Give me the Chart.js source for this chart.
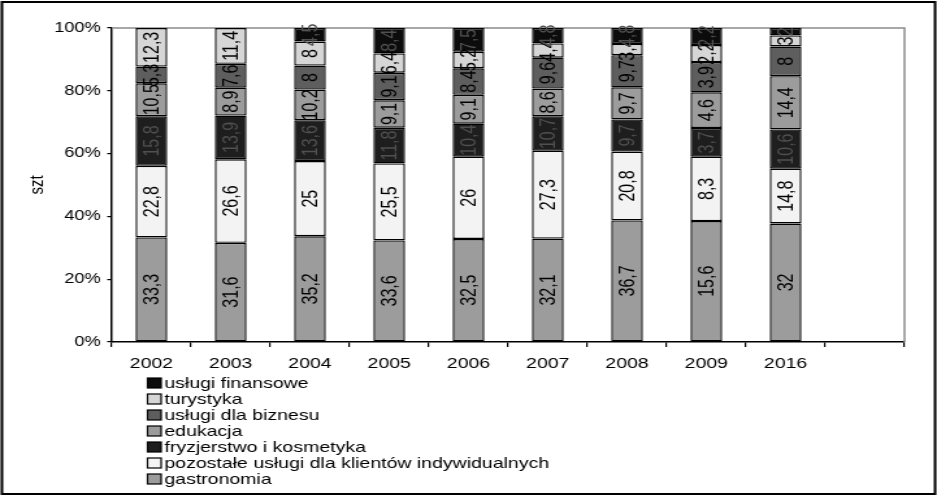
<!DOCTYPE html>
<html>
<head>
<meta charset="utf-8">
<script src="https://cdn.jsdelivr.net/npm/chart.js@4.4.1/dist/chart.umd.min.js"></script>
<style>
  html, body { margin: 0; padding: 0; background: #fff; }
</style>
</head>
<body>
<canvas id="chart" width="721" height="496" style="width:937px;height:496px;display:block"></canvas>
<script>
// lata (ostatnia kolumna pusta)
var years = ['2002', '2003', '2004', '2005', '2006', '2007', '2008', '2009', '2016', ''];

// udział poszczególnych rodzajów usług
var gastronomia = [33.3, 31.6, 35.2, 33.6, 32.5, 32.1, 36.7, 15.6, 32];
var pozostale   = [22.8, 26.6, 25, 25.5, 26, 27.3, 20.8, 8.3, 14.8];
var fryzjerstwo = [15.8, 13.9, 13.6, 11.8, 10.4, 10.7, 9.7, 3.7, 10.6];
var edukacja    = [10.5, 8.9, 10.2, 9.1, 9.1, 8.6, 9.7, 4.6, 14.4];
var biznes      = [5.3, 7.6, 8, 9.1, 8.4, 9.6, 9.7, 3.9, 8];
var turystyka   = [12.3, 11.4, 8, 6.4, 5.2, 4.4, 3.4, 2.2, 3];
var finanse     = [0, 0, 4.5, 8.4, 7.5, 4.8, 4.8, 2.2, 2];

var yTicks = [0, 20, 40, 60, 80, 100];

var FONT = '"Liberation Sans", Arial, sans-serif';

// sumy kolumn - wykres 100%
var totals = years.map(function (y, j) {
    var s = 0;
    [gastronomia, pozostale, fryzjerstwo, edukacja, biznes, turystyka, finanse].forEach(function (a) {
        if (a[j] !== undefined) s += a[j];
    });
    return s;
});

function toPercent(arr) {
    return arr.map(function (v, j) { return totals[j] ? v / totals[j] * 100 : 0; });
}

function getDataset(_label, _values, _color, _textcolor) {
    return {
        label: _label,
        values: _values,
        data: toPercent(_values),
        backgroundColor: _color,
        borderColor: '#000',
        borderWidth: 1.4,
        borderSkipped: false,
        labelColor: _textcolor
    };
}

var datasets = [
    getDataset('gastronomia', gastronomia, '#9c9c9c', '#000'),
    getDataset('pozostałe usługi dla klientów indywidualnych', pozostale, '#f3f3f3', '#000'),
    getDataset('fryzjerstwo i kosmetyka', fryzjerstwo, '#1e1e1e', '#505050'),
    getDataset('edukacja', edukacja, '#9c9c9c', '#000'),
    getDataset('usługi dla biznesu', biznes, '#5e5e5e', '#000'),
    getDataset('turystyka', turystyka, '#d6d6d6', '#000'),
    getDataset('usługi finansowe', finanse, '#0c0c0c', '#505050')
];

// ramka całego wykresu i obramowanie obszaru kreślenia
var framePlugin = {
    id: 'frame',
    beforeDraw: function (chart) {
        var ctx = chart.ctx;
        ctx.save();
        ctx.fillStyle = '#fff';
        ctx.fillRect(0, 0, chart.width, chart.height);
        ctx.strokeStyle = '#000';
        ctx.lineWidth = 2;
        ctx.strokeRect(1.5, 2, chart.width - 3, chart.height - 4);
        ctx.restore();
    },
    beforeDatasetsDraw: function (chart) {
        var a = chart.chartArea, ctx = chart.ctx;
        ctx.save();
        ctx.strokeStyle = '#8c8c8c';
        ctx.lineWidth = 1.5;
        ctx.beginPath();
        ctx.moveTo(a.left, a.top);
        ctx.lineTo(a.right, a.top);
        ctx.lineTo(a.right, a.bottom);
        ctx.stroke();
        ctx.restore();
    }
};

// wartości w słupkach, obrócone pionowo
var valueLabels = {
    id: 'valueLabels',
    afterDatasetsDraw: function (chart) {
        var ctx = chart.ctx;
        chart.data.datasets.forEach(function (ds, i) {
            var meta = chart.getDatasetMeta(i);
            meta.data.forEach(function (bar, j) {
                var v = ds.values[j];
                if (!v) return;
                ctx.save();
                ctx.translate(bar.x, (bar.y + bar.base) / 2);
                ctx.rotate(-Math.PI / 2);
                ctx.font = '16px ' + FONT;
                ctx.fillStyle = ds.labelColor;
                ctx.textAlign = 'center';
                ctx.textBaseline = 'middle';
                ctx.fillText(String(v).replace('.', ','), 0, 1);
                ctx.restore();
            });
        });
    }
};

// legenda pionowa pod osią + tytuł osi Y
var sideText = {
    id: 'sideText',
    afterDraw: function (chart) {
        var ctx = chart.ctx;
        ctx.save();
        ctx.fillStyle = '#000';
        ctx.font = '15px ' + FONT;
        ctx.textBaseline = 'middle';

        ctx.save();
        ctx.translate(29, 185);
        ctx.rotate(-Math.PI / 2);
        ctx.textAlign = 'center';
        ctx.fillText('szt', 0, 0);
        ctx.restore();

        var items = chart.data.datasets.slice().reverse();
        for (i = 0; i < items.length; i++) {
            var y = 383 + i * 16;
            ctx.fillStyle = items[i].backgroundColor;
            ctx.fillRect(113.5, y - 5, 10.5, 10);
            ctx.strokeStyle = '#000';
            ctx.lineWidth = 1.2;
            ctx.strokeRect(113.5, y - 5, 10.5, 10);
            ctx.fillStyle = '#000';
            ctx.textAlign = 'left';
            ctx.fillText(items[i].label, 126.5, y + 0.5);
        }
        ctx.restore();
    }
};

var ctx = document.getElementById('chart');
var BarChart = new Chart(ctx, {
    type: 'bar',
    data: { labels: years, datasets: datasets },
    plugins: [framePlugin, valueLabels, sideText],
    options: {
        responsive: false,
        devicePixelRatio: 1,
        animation: false,
        layout: { padding: { left: 0, top: 28, right: 25, bottom: 124 } },
        plugins: { legend: { display: false }, tooltip: { enabled: false } },
        datasets: { bar: { categoryPercentage: 1, barPercentage: 0.4 } },
        scales: {
            x: {
                stacked: true,
                grid: { offset: true, drawOnChartArea: false, tickLength: 5, color: '#000', lineWidth: 1.2 },
                border: { color: '#000', width: 1.5 },
                ticks: { color: '#000', font: { family: FONT, size: 15 }, padding: 8, maxRotation: 0 },
                afterFit: function (scale) { scale.height = 30; }
            },
            y: {
                stacked: true,
                min: 0,
                max: 100,
                afterBuildTicks: function (scale) {
                    scale.ticks = yTicks.map(function (v) { return { value: v }; });
                },
                grid: { drawOnChartArea: false, tickLength: 3.5, color: '#000', lineWidth: 1.2 },
                border: { color: '#000', width: 1.5 },
                ticks: {
                    color: '#000',
                    font: { family: FONT, size: 14 },
                    padding: 5,
                    callback: function (v) { return v + '%'; }
                },
                afterFit: function (scale) { scale.width = 86; }
            }
        }
    }
});
</script>
</body>
</html>
